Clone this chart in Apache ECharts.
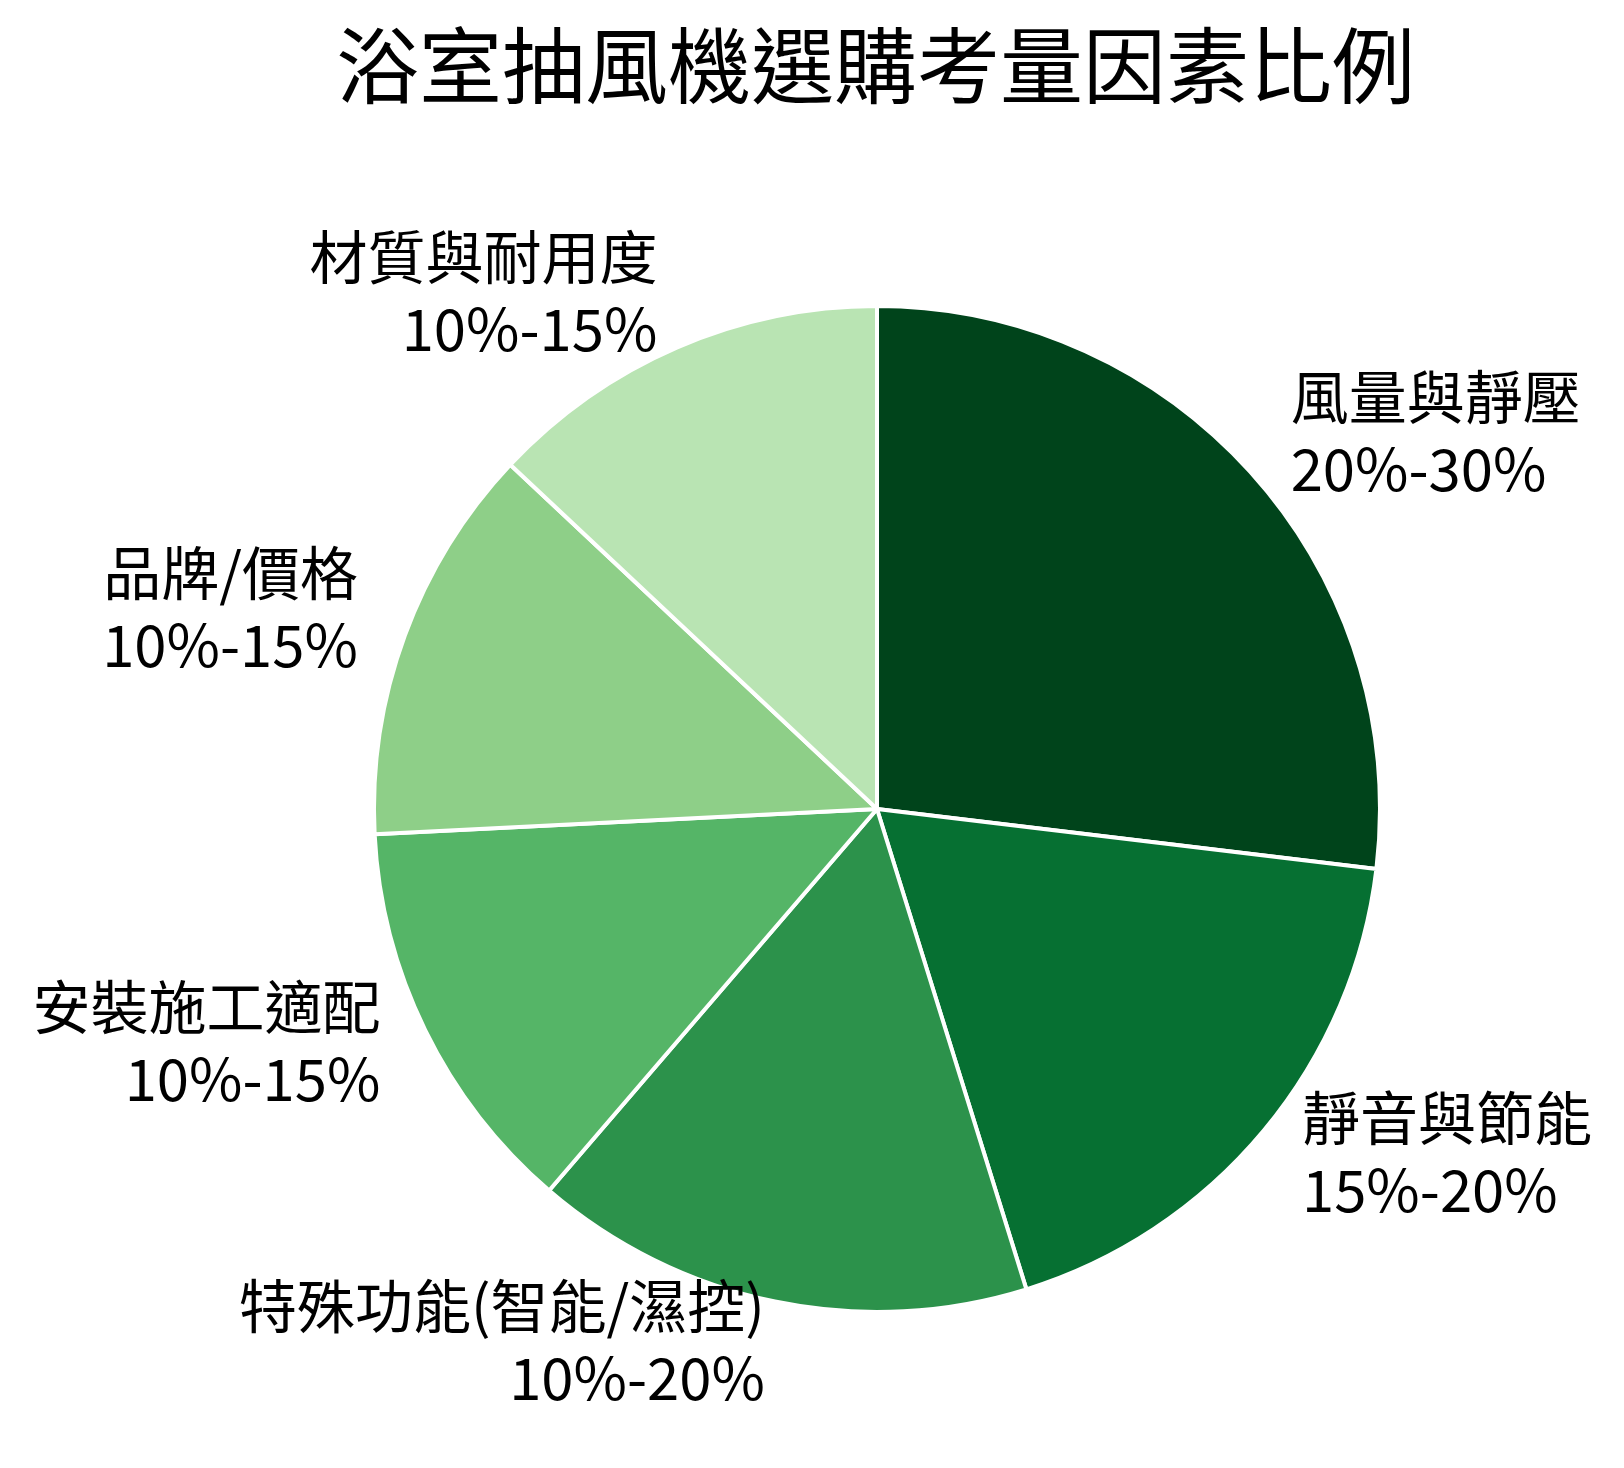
<!DOCTYPE html>
<html>
<head>
<meta charset="utf-8">
<script src="https://cdn.jsdelivr.net/npm/echarts@6/dist/echarts.min.js"></script>
<style>
    html, body { margin: 0; padding: 0; background: #fff; }
    #chart { width: 1624px; height: 1468px; }
</style>
</head>
<body>
<div id="chart"></div>
<script>
var categories = ['風量與靜壓', '靜音與節能', '特殊功能(智能/濕控)', '安裝施工適配', '品牌/價格', '材質與耐用度'];
var ranges = ['20%-30%', '15%-20%', '10%-20%', '10%-15%', '10%-15%', '10%-15%'];
var shares = [26.9, 18.3, 16.1, 12.9, 12.8, 13.0];
var colors = ['#00441b', '#067032', '#2c924b', '#55b567', '#8ecf88', '#b9e4b3'];

var myChart = echarts.init(document.getElementById('chart'));

var pieData = categories.map(function (name, i) {
    return {name: name, value: shares[i], itemStyle: {color: colors[i]}};
});

var option = {
    animation: false,
    backgroundColor: '#ffffff',
    title: {
        text: '浴室抽風機選購考量因素比例',
        left: 336,
        top: 24,
        padding: 0,
        textStyle: {
            fontFamily: 'Noto Sans CJK TC',
            fontSize: 83,
            fontWeight: 'normal',
            color: '#000'
        }
    },
    series: [
        {
            type: 'pie',
            center: [877, 809],
            radius: 503,
            startAngle: 90,
            clockwise: true,
            avoidLabelOverlap: false,
            itemStyle: {
                borderColor: '#ffffff',
                borderWidth: 4
            },
            label: {
                show: true,
                position: 'outside',
                distanceToLabelLine: 0,
                fontFamily: 'Noto Sans CJK TC',
                fontSize: 58,
                lineHeight: 72,
                color: '#000',
                formatter: function (p) {
                    return p.name + '\n' + ranges[p.dataIndex];
                }
            },
            labelLine: {
                show: false,
                length: 50,
                length2: 0
            },
            labelLayout: {dy: -9},
            emphasis: {disabled: true},
            data: pieData
        }
    ]
};
myChart.setOption(option);
</script>
</body>
</html>
